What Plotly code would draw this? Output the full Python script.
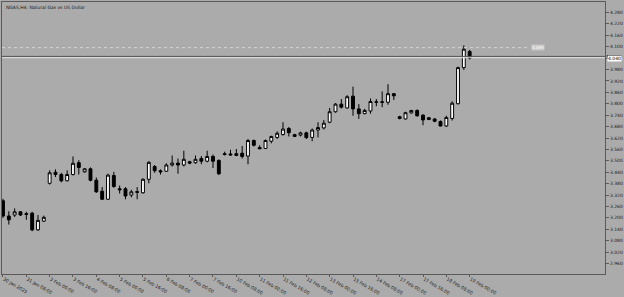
import plotly.graph_objects as go

# ---- data (NGAS H4) ----
day_names = ["30 Jan", "31 Jan", "3 Feb", "4 Feb", "5 Feb", "6 Feb", "7 Feb",
             "10 Feb", "11 Feb", "12 Feb", "13 Feb", "14 Feb", "17 Feb", "18 Feb", "19 Feb"]
day_hours = [[16, 20]] + [[0, 4, 8, 12, 16, 20]] * 13 + [[0]]

opens = [3.290,3.210,3.215,3.232,3.222,3.225,3.137,3.183,3.382,3.440,
         3.428,3.395,3.428,3.490,3.442,3.458,3.398,3.340,3.298,3.423,
         3.353,3.353,3.320,3.338,3.332,3.403,3.470,3.448,3.445,3.478,
         3.488,3.478,3.495,3.490,3.512,3.498,3.523,3.502,3.533,3.536,
         3.528,3.540,3.525,3.607,3.570,3.565,3.603,3.623,3.638,3.670,
         3.628,3.635,3.647,3.623,3.662,3.673,3.703,3.758,3.798,3.778,
         3.840,3.773,3.748,3.762,3.807,3.807,3.808,3.853,3.732,3.720,
         3.752,3.765,3.740,3.717,3.720,3.707,3.683,3.723,3.800,3.990,
         4.075]
highs = [3.300,3.235,3.250,3.235,3.232,3.232,3.215,3.212,3.450,3.455,
         3.437,3.450,3.523,3.503,3.462,3.465,3.412,3.362,3.432,3.442,
         3.370,3.362,3.348,3.362,3.408,3.498,3.478,3.455,3.487,3.528,
         3.512,3.553,3.500,3.528,3.525,3.553,3.533,3.508,3.548,3.558,
         3.562,3.578,3.615,3.612,3.582,3.612,3.632,3.655,3.703,3.678,
         3.642,3.653,3.653,3.670,3.703,3.715,3.778,3.803,3.825,3.845,
         3.890,3.798,3.773,3.828,3.825,3.865,3.903,3.856,3.737,3.758,
         3.767,3.770,3.745,3.728,3.725,3.712,3.737,3.813,3.995,4.107,
         4.083]
lows = [3.200,3.165,3.205,3.210,3.190,3.130,3.132,3.178,3.375,3.415,
        3.387,3.392,3.423,3.428,3.438,3.392,3.332,3.295,3.295,3.358,
        3.328,3.298,3.308,3.298,3.328,3.382,3.437,3.428,3.442,3.470,
        3.432,3.470,3.482,3.485,3.482,3.492,3.462,3.425,3.528,3.528,
        3.525,3.512,3.482,3.575,3.562,3.562,3.592,3.615,3.633,3.628,
        3.627,3.628,3.615,3.603,3.623,3.665,3.698,3.753,3.775,3.775,
        3.737,3.720,3.745,3.748,3.787,3.782,3.795,3.820,3.718,3.717,
        3.748,3.732,3.687,3.715,3.703,3.682,3.678,3.712,3.797,3.978,
        4.033]
closes = [3.210,3.190,3.232,3.215,3.218,3.137,3.187,3.203,3.437,3.428,
          3.395,3.428,3.487,3.465,3.458,3.398,3.337,3.298,3.425,3.365,
          3.348,3.315,3.337,3.335,3.403,3.492,3.448,3.442,3.478,3.488,
          3.478,3.508,3.488,3.508,3.498,3.523,3.498,3.432,3.537,3.531,
          3.538,3.523,3.607,3.582,3.563,3.607,3.628,3.645,3.667,3.648,
          3.638,3.647,3.622,3.662,3.675,3.698,3.758,3.798,3.782,3.837,
          3.773,3.748,3.765,3.812,3.810,3.810,3.853,3.842,3.723,3.753,
          3.765,3.737,3.715,3.727,3.708,3.683,3.728,3.803,3.990,4.087,
          4.040]

y_ticks = [2.960, 3.020, 3.080, 3.140, 3.200, 3.260, 3.320, 3.380, 3.440, 3.500,
           3.560, 3.620, 3.680, 3.740, 3.800, 3.860, 3.920, 3.980, 4.040, 4.100,
           4.160, 4.220, 4.280]
level_price = 4.095
bid_price = 4.040
title_text = "NGAS,H4: Natural Gas vs US Dollar"

# ---- build category labels ----
times = []
for d, hrs in zip(day_names, day_hours):
    for h in hrs:
        times.append(f"{d} {h:02d}:00")

tick_vals = times[::4]
tick_text = ["30 Jan 2025"] + tick_vals[1:]
# the tick hidden behind the bid price box carries no visible label
y_tick_text = ["" if abs(v - bid_price) < 1e-9 else f"{v:.3f}" for v in y_ticks]

BG = "#ababab"
FG = "#202020"
FONT = "DejaVu Sans"

fig = go.Figure()
fig.add_trace(go.Candlestick(
    x=times, open=opens, high=highs, low=lows, close=closes,
    increasing=dict(fillcolor="#ffffff", line=dict(color="#000000", width=1)),
    decreasing=dict(fillcolor="#000000", line=dict(color="#000000", width=1)),
    whiskerwidth=0, hoverinfo="skip", showlegend=False,
))

shapes = [
    dict(type="line", xref="paper", yref="y", x0=0, x1=0.872, y0=level_price, y1=level_price,
         line=dict(color="#d6d6d6", width=1, dash="dot")),
    dict(type="line", xref="paper", yref="y", x0=0, x1=1, y0=bid_price + 0.009, y1=bid_price + 0.009,
         line=dict(color="#555555", width=1)),
    dict(type="line", xref="paper", yref="y", x0=0, x1=1, y0=bid_price + 0.002, y1=bid_price + 0.002,
         line=dict(color="#e4e4e4", width=1)),
    dict(type="rect", xref="paper", yref="y", x0=1.003, x1=1.027, y0=bid_price + 0.003, y1=bid_price + 0.016,
         fillcolor="#000000", line=dict(width=0)),
]

annotations = [
    dict(text=title_text, xref="paper", yref="paper", x=0.003, y=0.998, xanchor="left", yanchor="top",
         showarrow=False, font=dict(family=FONT, size=4.5, color=FG)),
    dict(text=f"{level_price:.3f}", xref="paper", yref="y", x=0.877, y=level_price, xanchor="left",
         yanchor="middle", showarrow=False, bgcolor="#c9c9c9", borderpad=0,
         font=dict(family=FONT, size=4, color="#ffffff")),
    dict(text=f"{bid_price:.3f}", xref="paper", yref="y", x=1.003, y=bid_price, xanchor="left",
         yanchor="middle", showarrow=False, bgcolor="#ffffff", borderpad=0,
         font=dict(family=FONT, size=4.5, color="#000000")),
]

fig.update_layout(
    width=624, height=297,
    margin=dict(l=1, r=16, t=2, b=9),
    paper_bgcolor=BG, plot_bgcolor=BG,
    shapes=shapes, annotations=annotations,
    font=dict(family=FONT, size=5, color=FG),
    xaxis=dict(
        type="category", range=[-0.17, 103.2], rangeslider=dict(visible=False),
        showgrid=False, zeroline=False,
        showline=True, mirror=True, linecolor="#5a5a5a", linewidth=1,
        tickmode="array", tickvals=tick_vals, ticktext=tick_text,
        ticks="outside", ticklen=2, tickcolor="#5a5a5a",
        ticklabelposition="outside right",
        tickfont=dict(family=FONT, size=4.5, color=FG),
    ),
    yaxis=dict(
        side="right", range=[2.905, 4.335],
        showgrid=False, zeroline=False,
        showline=True, mirror=True, linecolor="#5a5a5a", linewidth=1,
        tickmode="array", tickvals=y_ticks, ticktext=y_tick_text,
        ticks="outside", ticklen=3, tickcolor="#5a5a5a",
        tickfont=dict(family=FONT, size=4.5, color=FG),
    ),
)

fig.write_html("out.html")
